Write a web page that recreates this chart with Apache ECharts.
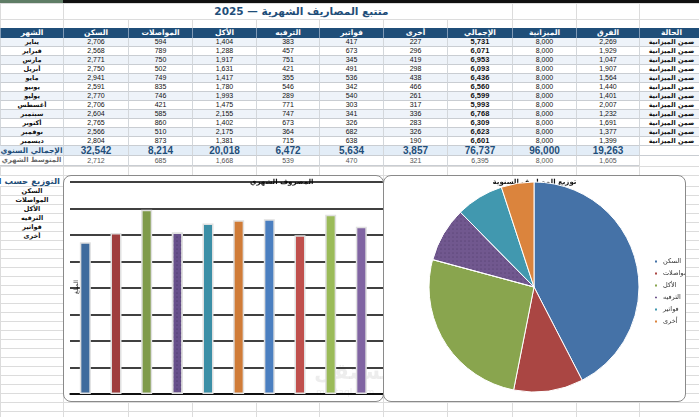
<!DOCTYPE html>
<html lang="ar">
<head>
<meta charset="utf-8">
<title>متتبع المصاريف الشهرية</title>
<script src="https://cdn.jsdelivr.net/npm/echarts@6/dist/echarts.min.js"></script>
<style>
  html, body { margin: 0; padding: 0; background: #fff; }
  body { width: 699px; height: 417px; overflow: hidden; position: relative; }
  #sheet { position: absolute; left: 0; top: 0; width: 699px; height: 417px; }
  .cell {
    position: absolute;
    box-sizing: border-box;
    text-align: center;
    white-space: nowrap;
    overflow: hidden;
    font-family: "Liberation Sans", "DejaVu Sans", sans-serif;
    font-size: 7px;
    color: #111;
  }
  .chartBox {
    position: absolute;
    box-sizing: border-box;
    border: 1px solid #8a8a8a;
    border-radius: 8px;
    background: #fff;
    overflow: hidden;
  }
  #barBox { left: 63px; top: 175px; width: 321px; height: 227px; }
  #pieBox { left: 383px; top: 175px; width: 303px; height: 227px; }
  #barChart { position: absolute; left: 0; top: 0; width: 380px; height: 225px; }
  #pieChart { position: absolute; left: 0; top: 0; width: 301px; height: 225px; }
</style>
</head>
<body>
<div id="sheet"></div>
<div class="chartBox" id="barBox"><div id="barChart"></div></div>
<div class="chartBox" id="pieBox"><div id="pieChart"></div></div>

<script>
// بيانات الجدول
var months = ["يناير", "فبراير", "مارس", "أبريل", "مايو", "يونيو", "يوليو", "أغسطس", "سبتمبر", "أكتوبر", "نوفمبر", "ديسمبر"];
var housing = [2706, 2568, 2771, 2750, 2941, 2591, 2770, 2706, 2604, 2765, 2566, 2804];
var transport = [594, 789, 750, 502, 749, 835, 746, 421, 585, 860, 510, 873];
var food = [1404, 1288, 1917, 1631, 1417, 1780, 1993, 1475, 2155, 1402, 2175, 1381];
var leisure = [383, 457, 751, 421, 355, 546, 289, 771, 747, 673, 364, 715];
var bills = [417, 673, 345, 491, 536, 342, 540, 303, 341, 326, 682, 638];
var other = [227, 296, 419, 298, 438, 466, 261, 317, 336, 283, 326, 190];
var totals = [5731, 6071, 6953, 6093, 6436, 6560, 6599, 5993, 6768, 6309, 6623, 6601];
var budget = [8000, 8000, 8000, 8000, 8000, 8000, 8000, 8000, 8000, 8000, 8000, 8000];
var diff = [2269, 1929, 1047, 1907, 1564, 1440, 1401, 2007, 1232, 1691, 1377, 1399];
var status = "ضمن الميزانية";

var headers = ["الشهر", "السكن", "المواصلات", "الأكل", "الترفيه", "فواتير", "أخرى", "الإجمالي", "الميزانية", "الفرق", "الحالة"];
var yearTotals = [32542, 8214, 20018, 6472, 5634, 3857, 76737, 96000, 19263];
var monthAvg = [2712, 685, 1668, 539, 470, 321, 6395, 8000, 1605];

// الفئات (للمخطط الدائري)
var categories = ["السكن", "المواصلات", "الأكل", "الترفيه", "فواتير", "أخرى"];

var colX = [0, 63, 128, 192, 256, 319, 383, 447, 512, 576, 639, 703];
var FONT = "DejaVu Sans";

var sheet = document.getElementById("sheet");
function box(x, y, w, h, css, text) {
  var d = document.createElement("div");
  d.className = "cell";
  d.style.cssText = "left:" + x + "px;top:" + y + "px;width:" + w + "px;height:" + h + "px;line-height:" + h + "px;" + (css || "");
  if (text != null) d.textContent = text;
  sheet.appendChild(d);
  return d;
}
function fmt(v) { return v.toLocaleString("en-US"); }

// خطوط الورقة
var gridY = [3, 19, 28, 166, 175];
for (var y = 186; y < 417; y += 9) gridY.push(y);
gridY.forEach(function (y) { box(0, y, 699, 1, "background:#dcdcdc;"); });
colX.forEach(function (x) { box(x, 3, 1, 414, "background:#dcdcdc;"); });

// الشريط العلوي
box(0, 0, 699, 3, "background:#111;");
box(0, 0, 63, 3, "background:#5f7d66;");

// العنوان
box(64, 4, 447, 15, "background:#fff;color:#1F4E79;font-size:10.5px;font-weight:bold;font-family:'DejaVu Sans';padding-left:28px;", "متتبع المصاريف الشهرية — 2025").dir = "rtl";

// رأس الجدول
headers.forEach(function (h, c) {
  box(colX[c], 28, colX[c + 1] - colX[c], 10,
    "background:#1F4E79;color:#fff;font-weight:bold;font-size:7.5px;font-family:'DejaVu Sans';border-left:1px solid #7f99b6;", h).dir = "rtl";
});

// صفوف الأشهر
months.forEach(function (m, i) {
  var top = 38 + 9 * i;
  var bg = i % 2 === 0 ? "#EEF3F9" : "#ffffff";
  var row = [m, fmt(housing[i]), fmt(transport[i]), fmt(food[i]), fmt(leisure[i]), fmt(bills[i]),
    fmt(other[i]), fmt(totals[i]), fmt(budget[i]), fmt(diff[i]), status];
  row.forEach(function (t, c) {
    var css = "background:" + bg + ";border-bottom:1px solid #c9cdd2;border-left:1px solid #d3d7db;line-height:8px;";
    if (c === 0 || c === 10) css += "font-family:'DejaVu Sans';font-size:6.5px;font-weight:bold;";
    if (c === 7) css += "font-weight:bold;font-size:7.5px;";
    box(colX[c], top, colX[c + 1] - colX[c], 9, css, t).dir = (c === 0 || c === 10) ? "rtl" : "ltr";
  });
});

// صف الإجمالي السنوي
box(0, 146, 63, 10, "background:#E3EDF7;color:#1F4E79;font-weight:bold;font-size:7.5px;font-family:'DejaVu Sans';border-bottom:1px solid #c9cdd2;line-height:9px;", "الإجمالي السنوي").dir = "rtl";
yearTotals.forEach(function (v, c) {
  box(colX[c + 1], 146, colX[c + 2] - colX[c + 1], 10,
    "background:#E3EDF7;color:#1F4E79;font-weight:bold;font-size:10px;border-left:1px solid #d3d7db;border-bottom:1px solid #c9cdd2;line-height:9px;", fmt(v));
});
box(639, 146, 64, 10, "background:#fff;border-left:1px solid #d3d7db;border-bottom:1px solid #c9cdd2;");

// صف المتوسط الشهري
box(0, 156, 63, 10, "background:#fff;color:#666;font-weight:bold;font-size:6.8px;font-family:'DejaVu Sans';border-bottom:1px solid #c9cdd2;line-height:9px;", "المتوسط الشهري").dir = "rtl";
monthAvg.forEach(function (v, c) {
  box(colX[c + 1], 156, colX[c + 2] - colX[c + 1], 10,
    "background:#fff;color:#555;font-size:7px;border-left:1px solid #d3d7db;border-bottom:1px solid #c9cdd2;line-height:9px;", fmt(v));
});

// التوزيع حسب الفئة
var distTitle = box(-120, 176, 180, 10, "text-align:right;color:#1F4E79;font-weight:bold;font-size:8.5px;font-family:'DejaVu Sans';overflow:visible;background:#fff;", "التوزيع حسب الفئة");
distTitle.dir = "rtl";
categories.forEach(function (k, i) {
  box(1, 187 + 9 * i, 62, 8, "background:#fff;font-family:'DejaVu Sans';font-size:6.5px;font-weight:bold;line-height:8px;", k).dir = "rtl";
});

// مخطط الأعمدة: الإجمالي الشهري
var barColors = ["#3F6B9D", "#9F3D3D", "#7F9B4A", "#67508B", "#3C8FA6", "#D07C38", "#4B7FC0", "#C0504D", "#9BBB59", "#8064A2", "#4BACC6", "#F79646"];
var barChart = echarts.init(document.getElementById("barChart"));
barChart.setOption({
  animation: false,
  textStyle: { fontFamily: FONT },
  grid: { left: 6, top: 6, width: 368, height: 212 },
  xAxis: {
    type: "category",
    data: months,
    axisLine: { lineStyle: { color: "#000", width: 1.5 } },
    axisTick: { show: false },
    axisLabel: { show: false }
  },
  yAxis: {
    type: "value",
    min: 0,
    max: 8000,
    interval: 1000,
    axisLine: { show: false },
    axisTick: { show: false },
    axisLabel: { show: false },
    splitLine: { lineStyle: { color: "#000", width: 1.5 } }
  },
  series: [
    {
      type: "bar",
      barWidth: 11,
      itemStyle: { borderColor: "#e0e0e0", borderWidth: 1.5 },
      data: totals.map(function (v, i) {
        var it = { value: v, itemStyle: { color: barColors[i] } };
        if (i === 3) {
          it.itemStyle.decal = { symbol: "circle", symbolSize: 0.5, dashArrayX: 2, dashArrayY: 2, color: "rgba(20,10,40,0.55)" };
        }
        return it;
      })
    }
  ],
  graphic: [
    {
      type: "text", left: 186, top: 3,
      style: { text: "المصروف الشهري", fontSize: 7, fontWeight: "bold", fill: "#111", fontFamily: FONT }
    },
    {
      type: "text", x: 9, y: 118, rotation: Math.PI / 2,
      style: { text: "المبلغ", fontSize: 6, fill: "#333", fontFamily: FONT }
    },
    {
      type: "text", left: 250, top: 186,
      style: { text: "مستقل", fontSize: 22, fontWeight: "bold", fill: "rgba(0,0,0,0.07)", fontFamily: FONT }
    },
    {
      type: "text", left: 252, top: 212,
      style: { text: "mostaql.com", fontSize: 9, fill: "rgba(0,0,0,0.08)", fontFamily: FONT }
    }
  ]
});

// المخطط الدائري: توزيع المصاريف السنوية
var pieColors = ["#4572A7", "#AA4643", "#89A54E", "#71588F", "#4198AF", "#DB843D"];
var pieChart = echarts.init(document.getElementById("pieChart"));
pieChart.setOption({
  animation: false,
  textStyle: { fontFamily: FONT },
  legend: {
    orient: "vertical",
    left: 264,
    top: 77,
    icon: "rect",
    itemWidth: 4,
    itemHeight: 4,
    itemGap: 5,
    textStyle: { fontSize: 6.5, color: "#333", fontFamily: FONT, lineHeight: 7 },
    data: categories
  },
  series: [
    {
      type: "pie",
      center: [150, 111],
      radius: 105,
      startAngle: 90,
      clockwise: true,
      label: { show: false },
      labelLine: { show: false },
      itemStyle: { borderColor: "#fff", borderWidth: 1 },
      data: categories.map(function (k, i) {
        var it = { name: k, value: yearTotals[i], itemStyle: { color: pieColors[i] } };
        if (i === 3) {
          it.itemStyle.decal = { symbol: "circle", symbolSize: 0.5, dashArrayX: 2, dashArrayY: 2, color: "rgba(20,10,40,0.45)" };
        }
        return it;
      })
    }
  ],
  graphic: [
    {
      type: "text", left: "center", top: 3,
      style: { text: "توزيع المصاريف السنوية", fontSize: 7, fontWeight: "bold", fill: "#111", fontFamily: FONT }
    }
  ]
});
</script>
</body>
</html>
